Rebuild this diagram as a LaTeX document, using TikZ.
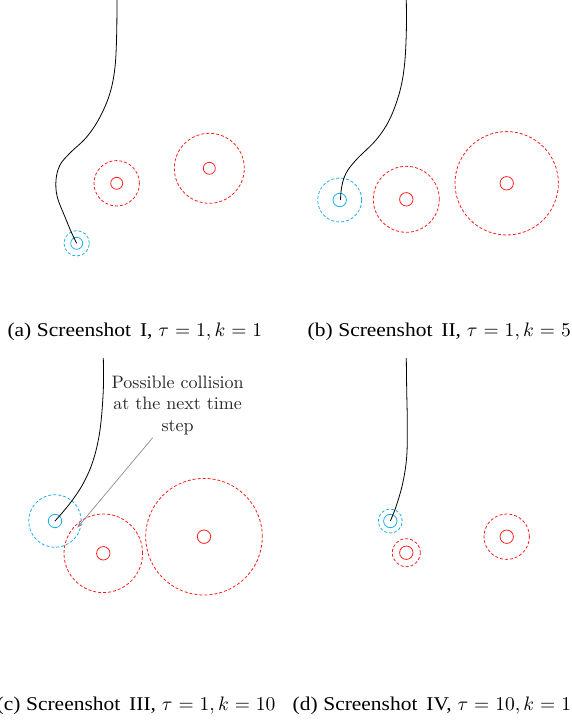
\documentclass[tikz,border=0pt]{standalone}
\usepackage[no-math]{fontspec}
\setmainfont{Liberation Serif}[FakeStretch=1.10]
\newfontfamily\lmten{lmroman10-regular}[Extension=.otf]
\usetikzlibrary{arrows.meta}
\definecolor{agentblue}{RGB}{30,175,235}
\definecolor{obsred}{RGB}{255,30,30}
\newcommand{\capline}[3]{\scalebox{1.95}{\fontsize{10}{12}\selectfont #1\hspace{2.9pt}Screenshot\hspace{4.6pt}#2\hspace{3pt}$\thickmuskip=5.5mu #3$}}
\begin{document}
\begin{tikzpicture}[x=1pt,y=-1pt,
  traj/.style={line width=0.8pt, black},
  core/.style={circle, line width=0.8pt, inner sep=0pt, minimum size=13.4pt},
  zone/.style={circle, line width=0.8pt, inner sep=0pt, dash pattern=on 3pt off 2pt},
  agent/.style={core, draw=agentblue},
  agentzone/.style={zone, draw=agentblue},
  obst/.style={core, draw=obsred},
  obstzone/.style={zone, draw=obsred},
  subcap/.style={anchor=base west, inner sep=0pt},
  annot/.style={align=center, inner sep=0pt, text=black!85, font=\lmten\fontsize{18}{21.7}\selectfont},
  pointer/.style={draw=black!45, line width=0.7pt, -{Stealth[length=6pt,width=4pt]}}]
\useasboundingbox (0,0) rectangle (572,723);

% ---------- (a)
\node[agent, minimum size=12pt] (aA) at (76.7,243.3) {};
\node[agentzone, minimum size=25.4pt] (aAz) at (76.7,243.3) {};
\node[obst, minimum size=12pt] (aO1) at (116.7,183.3) {};
\node[obstzone, minimum size=45.4pt] (aO1z) at (116.7,183.3) {};
\node[obst, minimum size=12pt] (aO2) at (209.3,168.3) {};
\node[obstzone, minimum size=70pt] (aO2z) at (209.3,168.3) {};
\draw[traj] plot[smooth, tension=0.6] coordinates {(116.9,0) (116.7,33) (115,67) (110,93) (100,117) (86.7,137) (70,153) (60,165) (56,180) (57.3,197) (65,217) (71.7,233) (76.7,243.3)};

% ---------- (b)
\node[agent] (bA) at (339.7,200) {};
\node[agentzone, minimum size=44pt] (bAz) at (339.7,200) {};
\node[obst] (bO1) at (406.3,199.3) {};
\node[obstzone, minimum size=66pt] (bO1z) at (406.3,199.3) {};
\node[obst] (bO2) at (506.7,183.3) {};
\node[obstzone, minimum size=103.4pt] (bO2z) at (506.7,183.3) {};
\draw[traj] plot[smooth, tension=0.6] coordinates {(406.3,0) (406.3,33.3) (404.3,66.7) (399.3,93.3) (389.3,120) (376,140) (356,160) (346,173.3) (341.7,186.7) (340.5,200)};

% ---------- (c)
\node[agent] (cA) at (55,521) {};
\node[agentzone, minimum size=52.6pt] (cAz) at (55,521) {};
\node[obst] (cO1) at (103.3,553.3) {};
\node[obstzone, minimum size=78.6pt] (cO1z) at (103.3,553.3) {};
\node[obst] (cO2) at (204,536.7) {};
\node[obstzone, minimum size=116.6pt] (cO2z) at (204,536.7) {};
\draw[traj] plot[smooth, tension=0.6] coordinates {(103.3,358) (103.3,390) (100,430) (93.3,460) (83.3,483.3) (70,503.3) (55,521)};
\node[annot, anchor=north] (note) at (177.7,375.5) {Possible collision\\at the next time\\step};
\coordinate (noteS) at (152.7,437.7);
\coordinate (noteT) at (77.3,527.7);
\draw[pointer] (noteS) -- (noteT);

% ---------- (d)
\node[agent] (dA) at (390.3,521) {};
\node[agentzone, minimum size=24pt] (dAz) at (390.3,521) {};
\node[obst] (dO1) at (406.3,552.7) {};
\node[obstzone, minimum size=28pt] (dO1z) at (406.3,552.7) {};
\node[obst] (dO2) at (506.7,536.7) {};
\node[obstzone, minimum size=45.4pt] (dO2z) at (506.7,536.7) {};
\draw[traj] plot[smooth, tension=0.6] coordinates {(406.3,358) (406.7,390) (407.3,423.3) (406.7,456.7) (402.7,483.3) (396,506.7) (390.3,521)};

% ---------- captions
\node[subcap] (capa) at (7.3,336.4) {\capline{(a)}{I,}{\tau=1, k=1}};
\node[subcap] (capb) at (307.5,336.4) {\capline{(b)}{II,}{\tau=1, k=5}};
\node[subcap] (capc) at (-3.5,710.5) {\capline{(c)}{III,}{\tau=1, k=10}};
\node[subcap] (capd) at (292.5,710.5) {\capline{(d)}{IV,}{\tau=10, k=1}};
\end{tikzpicture}
\end{document}
